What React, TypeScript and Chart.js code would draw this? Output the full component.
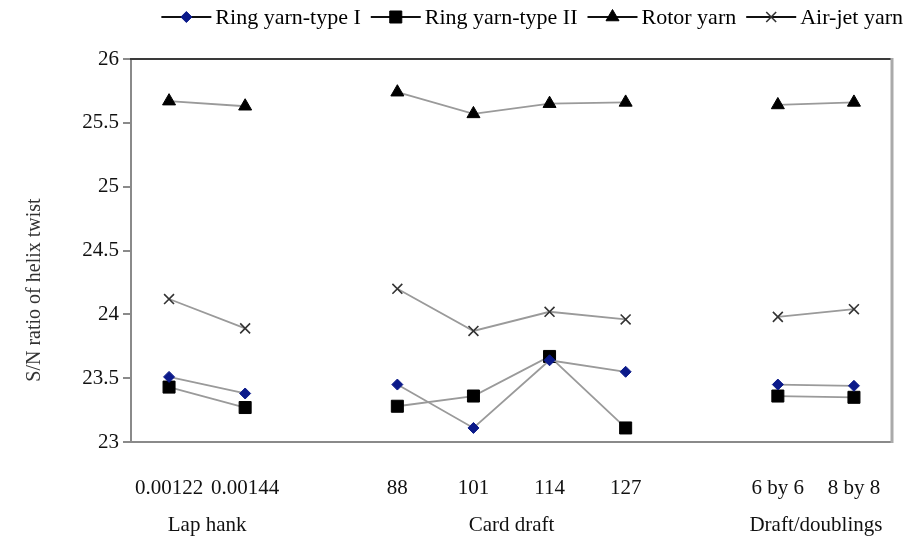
import React, { useEffect, useRef } from 'react';
import { Chart, registerables } from 'chart.js';
import { drawPoint } from 'chart.js/helpers';

Chart.register(...registerables);

// ---- data ----
const groupNames = ['Lap hank', 'Card draft', 'Draft/doublings'];
const groupLevels = [
  ['0.00122', '0.00144'],
  ['88', '101', '114', '127'],
  ['6 by 6', '8 by 8'],
];
const seriesNames = ['Ring yarn-type I', 'Ring yarn-type II', 'Rotor yarn', 'Air-jet yarn'];
const ringTypeI = [[23.51, 23.38], [23.45, 23.11, 23.64, 23.55], [23.45, 23.44]];
const ringTypeII = [[23.43, 23.27], [23.28, 23.36, 23.67, 23.11], [23.36, 23.35]];
const rotorYarn = [[25.67, 25.63], [25.74, 25.57, 25.65, 25.66], [25.64, 25.66]];
const airJetYarn = [[24.12, 23.89], [24.2, 23.87, 24.02, 23.96], [23.98, 24.04]];
const yMin = 23;
const yMax = 26;
const yStep = 0.5;
const yTitle = 'S/N ratio of helix twist';

// ---- build category axis with spacer slots between groups ----
const categories: string[] = [];
const groupCenters: number[] = [];
groupLevels.forEach((lv, gi) => {
  const start = categories.length;
  lv.forEach((l) => categories.push(l));
  groupCenters.push((start + categories.length - 1) / 2);
  if (gi < groupLevels.length - 1) categories.push('');
});
const flatten = (s: number[][]) => {
  const out: (number | null)[] = [];
  s.forEach((g, gi) => {
    g.forEach((v) => out.push(v));
    if (gi < s.length - 1) out.push(null);
  });
  return out;
};

const FONT = 'Liberation Serif';

const styles = [
  { pointStyle: 'rectRot', radius: 5.5, fill: '#0b1a8a', stroke: '#0b1a8a' },
  { pointStyle: 'rect', radius: 8.5, fill: '#000000', stroke: '#000000' },
  { pointStyle: 'triangle', radius: 7.5, fill: '#000000', stroke: '#000000' },
  { pointStyle: 'crossRot', radius: 7, fill: '#333333', stroke: '#333333' },
];
const seriesData = [ringTypeI, ringTypeII, rotorYarn, airJetYarn];

const noSidePadding = (s: any) => {
  s.paddingLeft = 0;
  s.paddingRight = 0;
};

const frameAndTextPlugin = {
  id: 'frameAndText',
  afterDraw(chart: any) {
    const ctx = chart.ctx as CanvasRenderingContext2D;
    const a = chart.chartArea;
    ctx.save();
    // top border
    ctx.strokeStyle = '#3a3a3a';
    ctx.lineWidth = 2;
    ctx.beginPath();
    ctx.moveTo(a.left - 1, a.top);
    ctx.lineTo(a.right, a.top);
    ctx.stroke();
    // right border
    ctx.strokeStyle = '#aaaaaa';
    ctx.lineWidth = 3;
    ctx.beginPath();
    ctx.moveTo(a.right, a.top - 1);
    ctx.lineTo(a.right, a.bottom + 1);
    ctx.stroke();

    // y axis title
    ctx.fillStyle = '#333333';
    ctx.font = `20px "${FONT}"`;
    ctx.textAlign = 'center';
    ctx.textBaseline = 'middle';
    ctx.translate(35, 290);
    ctx.rotate(-Math.PI / 2);
    ctx.fillText(yTitle, 0, 0);
    ctx.restore();

    // legend
    ctx.save();
    ctx.font = `22px "${FONT}"`;
    const lineW = 50;
    const gapText = 4;
    const gapItem = 10;
    const widths = seriesNames.map((n) => ctx.measureText(n).width);
    const total = widths.reduce((s, w) => s + lineW + gapText + w, 0) + gapItem * (seriesNames.length - 1);
    let x = chart.width - 3 - total;
    const y = 17;
    chart.data.datasets.forEach((ds: any, i: number) => {
      ctx.strokeStyle = '#111111';
      ctx.lineWidth = 2;
      ctx.beginPath();
      ctx.moveTo(x, y);
      ctx.lineTo(x + lineW, y);
      ctx.stroke();
      ctx.fillStyle = ds.pointBackgroundColor;
      ctx.strokeStyle = ds.pointBorderColor;
      ctx.lineWidth = ds.pointBorderWidth;
      drawPoint(ctx, { pointStyle: ds.pointStyle, radius: ds.pointRadius, borderWidth: ds.pointBorderWidth, rotation: 0 } as any, x + lineW / 2, y);
      ctx.fillStyle = '#000000';
      ctx.textAlign = 'left';
      ctx.textBaseline = 'middle';
      ctx.fillText(seriesNames[i], x + lineW + gapText, y + 1);
      x += lineW + gapText + widths[i] + gapItem;
    });
    ctx.restore();
  },
};

export default function App() {
  const ref = useRef<HTMLCanvasElement | null>(null);
  useEffect(() => {
    if (!ref.current) return;
    const chart = new Chart(ref.current, {
      type: 'line',
      data: {
        labels: categories,
        datasets: seriesData.map((s, i) => ({
          label: seriesNames[i],
          data: flatten(s),
          borderColor: '#9a9a9a',
          borderWidth: 1.8,
          spanGaps: false,
          tension: 0,
          pointStyle: styles[i].pointStyle as any,
          pointRadius: styles[i].radius,
          pointHoverRadius: styles[i].radius,
          pointBackgroundColor: styles[i].fill,
          pointBorderColor: styles[i].stroke,
          pointBorderWidth: i === 3 ? 1.6 : 1,
          fill: false,
        })),
      },
      options: {
        responsive: false,
        animation: false,
        layout: { padding: { left: 0, right: 14, top: 59, bottom: 0 } },
        plugins: {
          legend: { display: false },
          tooltip: { enabled: false },
          title: { display: false },
        },
        scales: {
          x: {
            type: 'category',
            position: 'bottom',
            offset: true,
            weight: 0,
            grid: { display: false, drawTicks: false },
            border: { display: true, color: '#8a8a8a', width: 2 },
            ticks: {
              autoSkip: false,
              maxRotation: 0,
              padding: 34,
              color: '#111111',
              font: { family: FONT, size: 21 },
            },
            afterFit: (s: any) => {
              s.height = 58;
              noSidePadding(s);
            },
          },
          x2: {
            type: 'linear',
            position: 'bottom',
            weight: 1,
            min: -0.5,
            max: categories.length - 0.5,
            grid: { display: false, drawTicks: false },
            border: { display: false },
            afterBuildTicks: (s: any) => {
              s.ticks = groupCenters.map((v) => ({ value: v }));
            },
            ticks: {
              padding: 13,
              color: '#111111',
              font: { family: FONT, size: 21 },
              callback: (v: any) => {
                const idx = groupCenters.indexOf(Number(v));
                return idx >= 0 ? groupNames[idx] : '';
              },
            },
            afterFit: (s: any) => {
              s.height = 36;
              noSidePadding(s);
            },
          },
          y: {
            min: yMin,
            max: yMax,
            grid: { drawOnChartArea: false, drawTicks: true, tickLength: 8, color: '#8a8a8a', lineWidth: 2 },
            border: { display: true, color: '#8a8a8a', width: 2 },
            ticks: {
              stepSize: yStep,
              padding: 4,
              color: '#111111',
              font: { family: FONT, size: 21 },
              callback: (v: any) => String(Number(v)),
            },
            afterFit: (s: any) => {
              s.width = 131;
            },
          },
        },
      },
      plugins: [frameAndTextPlugin],
    });
    return () => chart.destroy();
  }, []);
  return (
    <div style={{ position: 'absolute', left: 0, top: 0, width: 906, height: 536, background: '#ffffff' }}>
      <canvas ref={ref} width={906} height={536} style={{ display: 'block' }} />
    </div>
  );
}
